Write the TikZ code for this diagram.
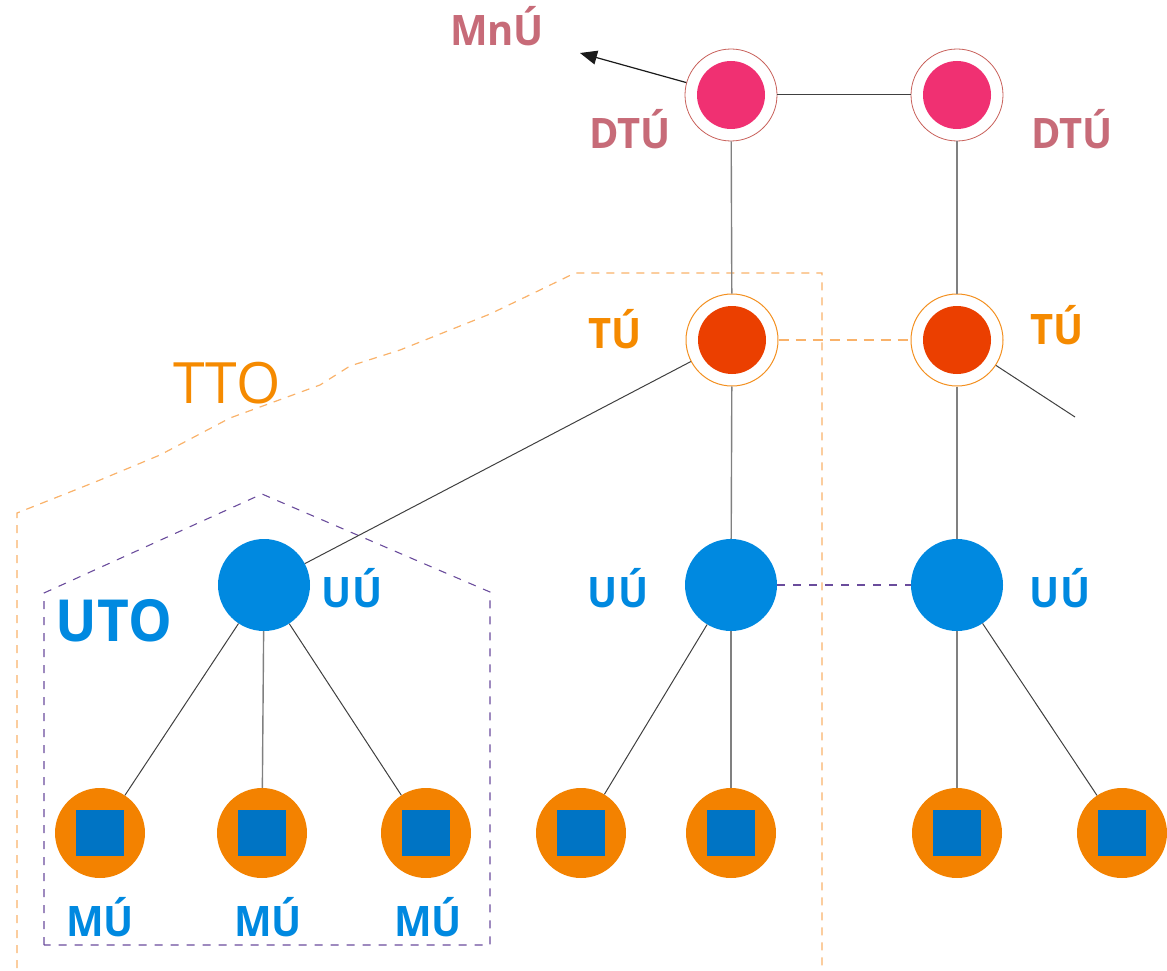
\documentclass[tikz,border=0pt]{standalone}
\usepackage{fontspec}
\setmainfont{Open Sans}[BoldFeatures={FakeStretch=0.95}]
\usetikzlibrary{arrows.meta}

\definecolor{dtupink}{HTML}{F03072}
\definecolor{dtuline}{HTML}{C8605A}
\definecolor{dtutext}{HTML}{C76B78}
\definecolor{tufill}{HTML}{EB3F00}
\definecolor{turing}{HTML}{F39020}
\definecolor{tutext}{HTML}{F58A00}
\definecolor{uublue}{HTML}{0089E0}
\definecolor{muorange}{HTML}{F38200}
\definecolor{musquare}{HTML}{0074C4}
\definecolor{ttoline}{HTML}{F9B26A}
\definecolor{utoline}{HTML}{6A4C9C}
\definecolor{vline}{HTML}{808080}
\definecolor{dline}{HTML}{404040}
\definecolor{arrowblack}{HTML}{1A1A1A}

\tikzset{
  dtunode/.style={circle, draw=dtuline, line width=0.8pt, fill=white, minimum size=92pt, inner sep=0pt,
    path picture={\fill[dtupink] (path picture bounding box.center) circle (34pt);}},
  tunode/.style={circle, draw=turing, line width=1pt, fill=white, minimum size=92pt, inner sep=0pt,
    path picture={\fill[tufill] (path picture bounding box.center) circle (34pt);}},
  uunode/.style={circle, fill=uublue, minimum size=92pt, inner sep=0pt},
  munode/.style={circle, fill=muorange, minimum size=90pt, inner sep=0pt,
    path picture={\fill[musquare] ([shift={(-24pt,-23pt)}]path picture bounding box.center) rectangle ++(48pt,46pt);}},
  lbl/.style={anchor=base, inner sep=0pt, font=\bfseries\fontsize{42}{48}\selectfont},
  vlink/.style={draw=vline, line width=1.4pt},
  dlink/.style={draw=dline, line width=1pt},
  tudash/.style={draw=ttoline, line width=1.2pt, dash pattern=on 10pt off 7pt},
  uudash/.style={draw=utoline, line width=1.1pt, dash pattern=on 8pt off 8pt},
  ttoborder/.style={draw=ttoline, line width=1.2pt, dash pattern=on 8pt off 7pt},
  utoborder/.style={draw=utoline, line width=1.1pt, dash pattern=on 8pt off 8pt},
}

\begin{document}
\begin{tikzpicture}[x=1pt, y=-1pt]
\useasboundingbox (0,0) rectangle (1167,971);

% group outlines
\draw[ttoborder] (17,968) -- (17,513) -- (60,496) -- (100,480) -- (160,455) -- (230,418)
  -- (290,396) -- (320,385) -- (350,366) -- (400,350) -- (450,330) -- (490,314)
  -- (540,290) -- (575,273) -- (822,273) -- (822,968);
\draw[utoborder] (44,945) -- (44,593) -- (262,494) -- (455,577) -- (490,592) -- (490,945) -- cycle;

% nodes
\node[dtunode] (d1) at (731,95) {};
\node[dtunode] (d2) at (957,95) {};
\node[tunode] (t1) at (732,340) {};
\node[tunode] (t2) at (957,340) {};
\node[uunode] (u1) at (264,585) {};
\node[uunode] (u2) at (731,585) {};
\node[uunode] (u3) at (957,585) {};
\node[munode] (m1) at (100,833) {};
\node[munode] (m2) at (262,833) {};
\node[munode] (m3) at (426,833) {};
\node[munode] (m4) at (581,833) {};
\node[munode] (m5) at (731,833) {};
\node[munode] (m6) at (957,833) {};
\node[munode] (m7) at (1122,833) {};

\coordinate (mnu) at (580,53);
\coordinate (tuend) at (1075,417);

% connectors
\draw[dlink] (d1) -- (d2);
\draw[draw=arrowblack, line width=1.2pt, -{Triangle[length=17pt, width=14pt]}] (d1) -- (mnu);
\draw[vlink] (d1) -- (t1);
\draw[vlink] (d2) -- (t2);
\draw[tudash] (t1) -- (t2);
\draw[dlink] (t1) -- (u1);
\draw[vlink] (t1) -- (u2);
\draw[vlink] (t2) -- (u3);
\draw[dlink] (t2) -- (tuend);
\draw[uudash] (u2) -- (u3);
\draw[dlink] (u1) -- (m1);
\draw[vlink] (u1) -- (m2);
\draw[dlink] (u1) -- (m3);
\draw[dlink] (u2) -- (m4);
\draw[vlink] (u2) -- (m5);
\draw[vlink] (u3) -- (m6);
\draw[dlink] (u3) -- (m7);

% labels
\node[lbl, text=dtutext] (lmnu) at (497,46) {MnÚ};
\node[lbl, text=dtutext] (ld1) at (630,149) {DTÚ};
\node[lbl, text=dtutext] (ld2) at (1072,149) {DTÚ};
\node[lbl, text=tutext] (lt1) at (615,348) {TÚ};
\node[lbl, text=tutext] (lt2) at (1057,344) {TÚ};
\node[lbl, text=uublue] (lu1) at (352,607) {UÚ};
\node[lbl, text=uublue] (lu2) at (618,607) {UÚ};
\node[lbl, text=uublue] (lu3) at (1060,607) {UÚ};
\node[lbl, text=uublue] (lm1) at (100,936) {MÚ};
\node[lbl, text=uublue] (lm2) at (268,936) {MÚ};
\node[lbl, text=uublue] (lm3) at (428,936) {MÚ};
\node[anchor=base, inner sep=0pt, text=uublue, font=\bfseries\fontsize{58}{64}\selectfont] (luto) at (114,641) {UTO};
\node[anchor=base, inner sep=0pt, text=tutext, font=\fontsize{57}{64}\selectfont] (ltto) at (227,403) {TTO};
\end{tikzpicture}
\end{document}
